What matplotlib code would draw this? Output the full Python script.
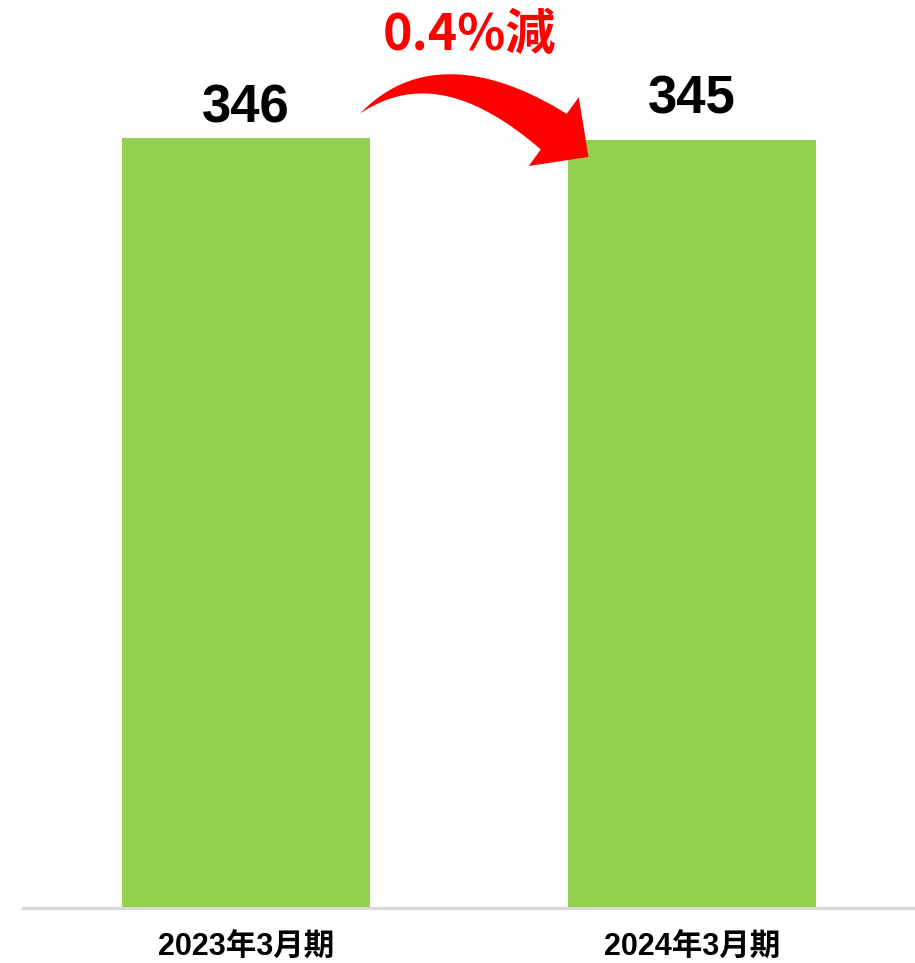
import matplotlib
matplotlib.use('Agg')
import matplotlib.pyplot as plt
import numpy as np
from matplotlib.patches import Polygon
from matplotlib.transforms import IdentityTransform

# chart values
periods = ['2023年3月期', '2024年3月期']
values = [346, 345]
change_label = '0.4%減'

plt.rcParams['font.family'] = ['Liberation Sans', 'Noto Sans CJK JP', 'DejaVu Sans']

fig = plt.figure(figsize=(9.15, 9.63), dpi=100)
ax = fig.add_axes([23 / 915, 55 / 963, 892 / 915, 908 / 963])

x = list(range(len(values)))
ax.bar(x, values, width=0.557, color='#92D050', zorder=2)

ax.set_xlim(-0.5, 1.5)
ax.set_ylim(0, 408)

for side in ['top', 'left', 'right']:
    ax.spines[side].set_visible(False)
ax.spines['bottom'].set_color('#D9D9D9')
ax.spines['bottom'].set_linewidth(2.2)
ax.set_yticks([])
ax.set_xticks(x)
ax.set_xticklabels(periods, fontsize=22, fontweight='bold')
ax.tick_params(axis='x', length=0, pad=17)

# value labels above bars
label_offsets = [11, 19]
for xi, v, off in zip(x, values, label_offsets):
    ax.annotate(str(v), (xi, v), xytext=(0, off), textcoords='offset points',
                ha='center', va='baseline', fontsize=38, fontweight='bold')

# curved red arrow (tapered tail) from first bar to second bar, built in pixels
tail = ax.transData.transform((x[0] + 0.256, values[0] + 11))
tip = ax.transData.transform((x[1] - 0.232, values[1] - 7.5))
d = np.array([np.cos(np.radians(-36)), np.sin(np.radians(-36))])
a = np.array([np.cos(np.radians(40)), np.sin(np.radians(40))])
head_len, head_w, body_w = 43, 85, 44
base = tip - head_len * d
t, k = np.linalg.solve(np.column_stack([a, d]), base - tail)
ctrl = tail + t * a

s = np.linspace(0, 1, 80)[:, None]
pts = (1 - s) ** 2 * tail + 2 * s * (1 - s) * ctrl + s ** 2 * base
der = 2 * (1 - s) * (ctrl - tail) + 2 * s * (base - ctrl)
nrm = np.column_stack([-der[:, 1], der[:, 0]])
nrm /= np.linalg.norm(nrm, axis=1)[:, None]
w = body_w * s / 2
upper = pts + nrm * w
lower = pts - nrm * w
n_end = np.array([-d[1], d[0]])
head = np.array([base + n_end * head_w / 2, tip, base - n_end * head_w / 2])
arrow = np.vstack([upper, head, lower[::-1]])
fig.add_artist(Polygon(arrow, closed=True, facecolor='red', edgecolor='none',
                       transform=IdentityTransform(), zorder=5))

ax.text(0.5, 392, change_label, ha='center', va='center', color='red',
        fontsize=36, fontweight='bold', family=['Noto Sans CJK JP', 'DejaVu Sans'])

fig.savefig('out.png', dpi=100)
